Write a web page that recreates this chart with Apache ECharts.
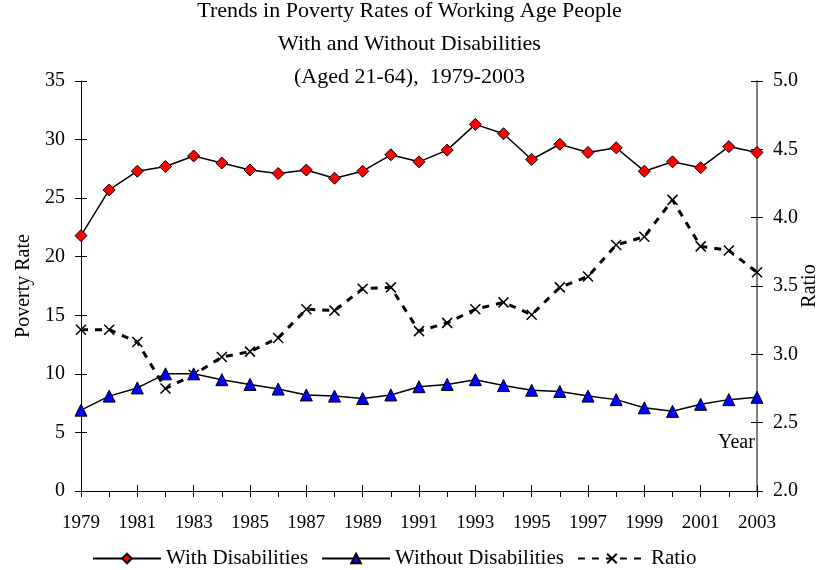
<!DOCTYPE html>
<html>
<head>
<meta charset="utf-8">
<title>Trends in Poverty Rates</title>
<script src="https://cdn.jsdelivr.net/npm/echarts@6/dist/echarts.min.js"></script>
<style>
  html, body { margin: 0; padding: 0; background: #fff; }
  #chart { width: 819px; height: 570px; }
</style>
</head>
<body>
<div id="chart"></div>
<script>
const FONT = "'Liberation Serif', 'Times New Roman', serif";

const years = [
  "1979", "1980", "1981", "1982", "1983", "1984", "1985", "1986", "1987",
  "1988", "1989", "1990", "1991", "1992", "1993", "1994", "1995", "1996",
  "1997", "1998", "1999", "2000", "2001", "2002", "2003",
];

const withDisabilities = [
  21.8, 25.7, 27.3, 27.7, 28.6, 28.0, 27.4, 27.1, 27.4, 26.7, 27.3, 28.7,
  28.1, 29.1, 31.3, 30.5, 28.3, 29.6, 28.9, 29.3, 27.3, 28.1, 27.6, 29.4, 28.9,
];

const withoutDisabilities = [
  6.9, 8.1, 8.8, 10.0, 10.0, 9.5, 9.1, 8.7, 8.2, 8.1, 7.9, 8.2, 8.9, 9.1,
  9.5, 9.0, 8.6, 8.5, 8.1, 7.8, 7.1, 6.8, 7.4, 7.8, 8.0,
];

const ratio = [
  3.18, 3.18, 3.09, 2.75, 2.85, 2.98, 3.02, 3.12, 3.33, 3.32, 3.48, 3.49,
  3.17, 3.23, 3.33, 3.38, 3.29, 3.49, 3.57, 3.80, 3.86, 4.13, 3.79, 3.76, 3.60,
];

const titleLines = [
  "Trends in Poverty Rates of Working Age People",
  "With and Without Disabilities",
  "(Aged 21-64),  1979-2003",
];

const CROSS = "path://M0,0L10,10M10,0L0,10";

function labelStyle(size) {
  return { fontFamily: FONT, fontSize: size, color: "#000" };
}

// a second axis with inside ticks, so ticks cross the axis line like Excel
function innerTicks(base) {
  return Object.assign({}, base, {
    axisLine: { show: false },
    axisLabel: { show: false },
    axisTick: { show: true, inside: true, length: 6, lineStyle: { color: "#000" } },
    splitLine: { show: false },
    name: "",
  });
}

const xBase = {
  type: "category",
  data: years,
  boundaryGap: false,
  position: "bottom",
};

const leftBase = { type: "value", min: 0, max: 35, interval: 5, position: "left" };
const rightBase = { type: "value", min: 2, max: 5, interval: 0.5, position: "right" };

const chart = echarts.init(document.getElementById("chart"));

chart.setOption({
  backgroundColor: "#fff",
  animation: false,
  title: {
    text: titleLines.join("\n"),
    left: "center",
    top: -5,
    padding: 0,
    textStyle: {
      fontFamily: FONT,
      fontSize: 22,
      fontWeight: "normal",
      color: "#000",
      lineHeight: 33,
    },
  },
  grid: { left: 81, right: 62, top: 81, bottom: 79, outerBoundsMode: "none" },
  legend: {
    left: 92,
    top: 548,
    padding: 0,
    itemWidth: 68,
    itemHeight: 12,
    itemGap: 13,
    textStyle: labelStyle(21),
    data: ["With Disabilities", "Without Disabilities", "Ratio"],
  },
  xAxis: [
    Object.assign({}, xBase, {
      axisLine: { lineStyle: { color: "#000", width: 1 } },
      axisTick: { show: true, interval: 0, length: 6, lineStyle: { color: "#000" } },
      axisLabel: Object.assign({ interval: 1, margin: 23 }, labelStyle(19)),
      splitLine: { show: false },
    }),
    innerTicks(Object.assign({}, xBase, { axisTick: { interval: 0 } })),
  ],
  yAxis: [
    Object.assign({}, leftBase, {
      name: "Poverty Rate",
      nameLocation: "middle",
      nameRotate: 90,
      nameGap: 47,
      nameMoveOverlap: false,
      nameTextStyle: labelStyle(20),
      axisLine: { show: true, lineStyle: { color: "#000", width: 1 } },
      axisTick: { show: true, length: 6, lineStyle: { color: "#000" } },
      axisLabel: Object.assign({ margin: 16 }, labelStyle(20)),
      splitLine: { show: false },
    }),
    Object.assign({}, rightBase, {
      name: "Ratio",
      nameLocation: "middle",
      nameRotate: 90,
      nameGap: 43,
      nameMoveOverlap: false,
      nameTextStyle: labelStyle(20),
      axisLine: { show: true, lineStyle: { color: "#808080", width: 2 } },
      axisTick: { show: true, length: 6, lineStyle: { color: "#000" } },
      axisLabel: Object.assign(
        { margin: 16, formatter: (v) => v.toFixed(1) },
        labelStyle(20),
      ),
      splitLine: { show: false },
    }),
    innerTicks(leftBase),
    innerTicks(rightBase),
  ],
  graphic: [
    {
      type: "text",
      left: 718,
      top: 433,
      style: { text: "Year", font: `20px ${FONT}`, fill: "#000" },
    },
  ],
  series: [
    {
      name: "With Disabilities",
      type: "line",
      data: withDisabilities,
      symbol: "diamond",
      symbolSize: 12,
      lineStyle: { color: "#000", width: 1.5 },
      itemStyle: { color: "#ff0000", borderColor: "#000", borderWidth: 1 },
      z: 3,
    },
    {
      name: "Without Disabilities",
      type: "line",
      data: withoutDisabilities,
      symbol: "triangle",
      symbolSize: 12,
      lineStyle: { color: "#000", width: 1.5 },
      itemStyle: { color: "#0000ff", borderColor: "#000", borderWidth: 1 },
      z: 3,
    },
    {
      name: "Ratio",
      type: "line",
      yAxisIndex: 1,
      data: ratio,
      symbol: CROSS,
      symbolSize: 10,
      lineStyle: { color: "#000", width: 3, type: [7, 7] },
      itemStyle: { color: "#000", borderColor: "#000", borderWidth: 1.5 },
      z: 2,
    },
  ],
});
</script>
</body>
</html>
